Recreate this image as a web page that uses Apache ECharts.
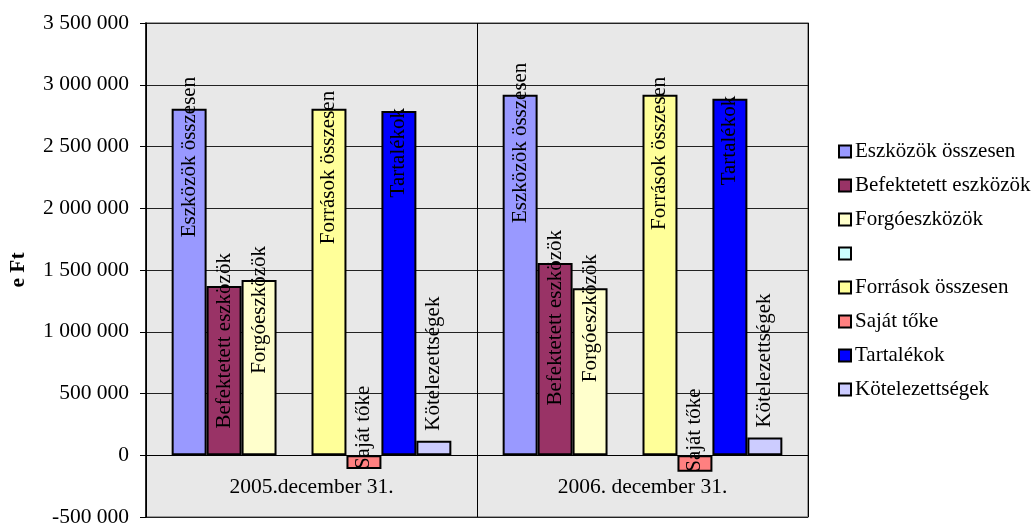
<!DOCTYPE html>
<html>
<head>
<meta charset="utf-8">
<script src="https://cdn.jsdelivr.net/npm/echarts@6/dist/echarts.min.js"></script>
<style>html,body{margin:0;padding:0;background:#fff}#c{width:1034px;height:524px}</style>
</head>
<body>
<div id="c"></div>
<script>
// ---- data ----
const categories = ['2005.december 31.', '2006. december 31.'];
const seriesNames = ['Eszközök összesen', 'Befektetett eszközök', 'Forgóeszközök', ' ', 'Források összesen', 'Saját tőke', 'Tartalékok', 'Kötelezettségek'];
const eszkozokOsszesen = [2805000, 2920000];
const befektetettEszkozok = [1370000, 1557000];
const forgoeszkozok = [1420000, 1352000];
const ures = [null, null];
const forrasokOsszesen = [2805000, 2920000];
const sajatToke = [-112000, -134000];
const tartalekok = [2788000, 2886000];
const kotelezettsegek = [118000, 143000];
const yTicks = { min: -500000, max: 3500000, step: 500000 };

const seriesValues = [eszkozokOsszesen, befektetettEszkozok, forgoeszkozok, ures, forrasokOsszesen, sajatToke, tartalekok, kotelezettsegek];

// ---- styles ----
const colors = ['#9999FF', '#993366', '#FFFFCC', '#CCFFFF', '#FFFF99', '#FF8080', '#0000FF', '#CCCCFF'];
const labelMode = ['end', 'end', 'end', 'none', 'end', 'base', 'end', 'above'];
const labelLift = [32, 33, 34, 0, 18, 0, 3, 10];
const FONT = '"Liberation Serif", "Times New Roman", serif';
const FS = 21.5;

function fmt(v) {
  const s = String(Math.abs(v)).replace(/\B(?=(\d{3})+(?!\d))/g, ' ');
  return (v < 0 ? '-' : '') + s;
}

function labelFor(i) {
  const base = { show: true, rotate: 90, fontFamily: FONT, fontSize: 21, color: '#000', formatter: seriesNames[i] };
  const m = labelMode[i];
  if (m === 'none') return { show: false };
  // offset is applied in the rotated frame: +x points up on screen
  if (m === 'end') return Object.assign(base, { position: 'insideTop', distance: 0, align: 'right', verticalAlign: 'middle', offset: [labelLift[i], 0] });
  if (m === 'above') return Object.assign(base, { position: 'top', distance: labelLift[i], align: 'left', verticalAlign: 'middle' });
  return Object.assign(base, { position: 'insideBottom', distance: 0, align: 'left', verticalAlign: 'middle' });
}

const series = seriesNames.map((name, i) => ({
  name: name,
  type: 'bar',
  barGap: '0%',
  barCategoryGap: '15.5%',
  data: seriesValues[i],
  itemStyle: { color: colors[i], borderColor: '#000', borderWidth: 2 },
  label: labelFor(i),
  emphasis: { disabled: true },
  animation: false
}));

const chart = echarts.init(document.getElementById('c'), null, { renderer: 'canvas' });
chart.setOption({
  animation: false,
  backgroundColor: '#fff',
  grid: { left: 146, right: 226, top: 23, bottom: 7, show: true, backgroundColor: '#E8E8E8', borderColor: '#808080', borderWidth: 1.5, containLabel: false, outerBoundsMode: 'none' },
  legend: {
    orient: 'vertical', left: 838, top: 141, padding: 0,
    itemWidth: 12, itemHeight: 12, itemGap: 13,
    data: seriesNames,
    textStyle: { fontFamily: FONT, fontSize: 21, color: '#000', lineHeight: 21, padding: [0, 0, 0, -1] },
    icon: 'rect', selectedMode: false
  },
  xAxis: {
    type: 'category', data: categories,
    axisLine: { show: true, onZero: true, lineStyle: { color: '#000', width: 1 } },
    axisTick: { show: false },
    splitLine: { show: true, lineStyle: { color: '#000', width: 1 } },
    axisLabel: { fontFamily: FONT, fontSize: FS, color: '#000', margin: -41 }
  },
  yAxis: {
    type: 'value', min: yTicks.min, max: yTicks.max, interval: yTicks.step,
    name: 'e Ft', nameLocation: 'middle', nameGap: 117, nameRotate: 90,
    nameTextStyle: { fontFamily: FONT, fontSize: FS, fontWeight: 'bold', color: '#000' },
    axisLine: { show: true, lineStyle: { color: '#000', width: 1.5 } },
    axisTick: { show: true, inside: false, length: 6, lineStyle: { color: '#000' } },
    splitLine: { show: true, lineStyle: { color: '#222', width: 1 } },
    axisLabel: { fontFamily: FONT, fontSize: FS, color: '#000', margin: 17, formatter: fmt }
  },
  series: series
});
</script>
</body>
</html>
